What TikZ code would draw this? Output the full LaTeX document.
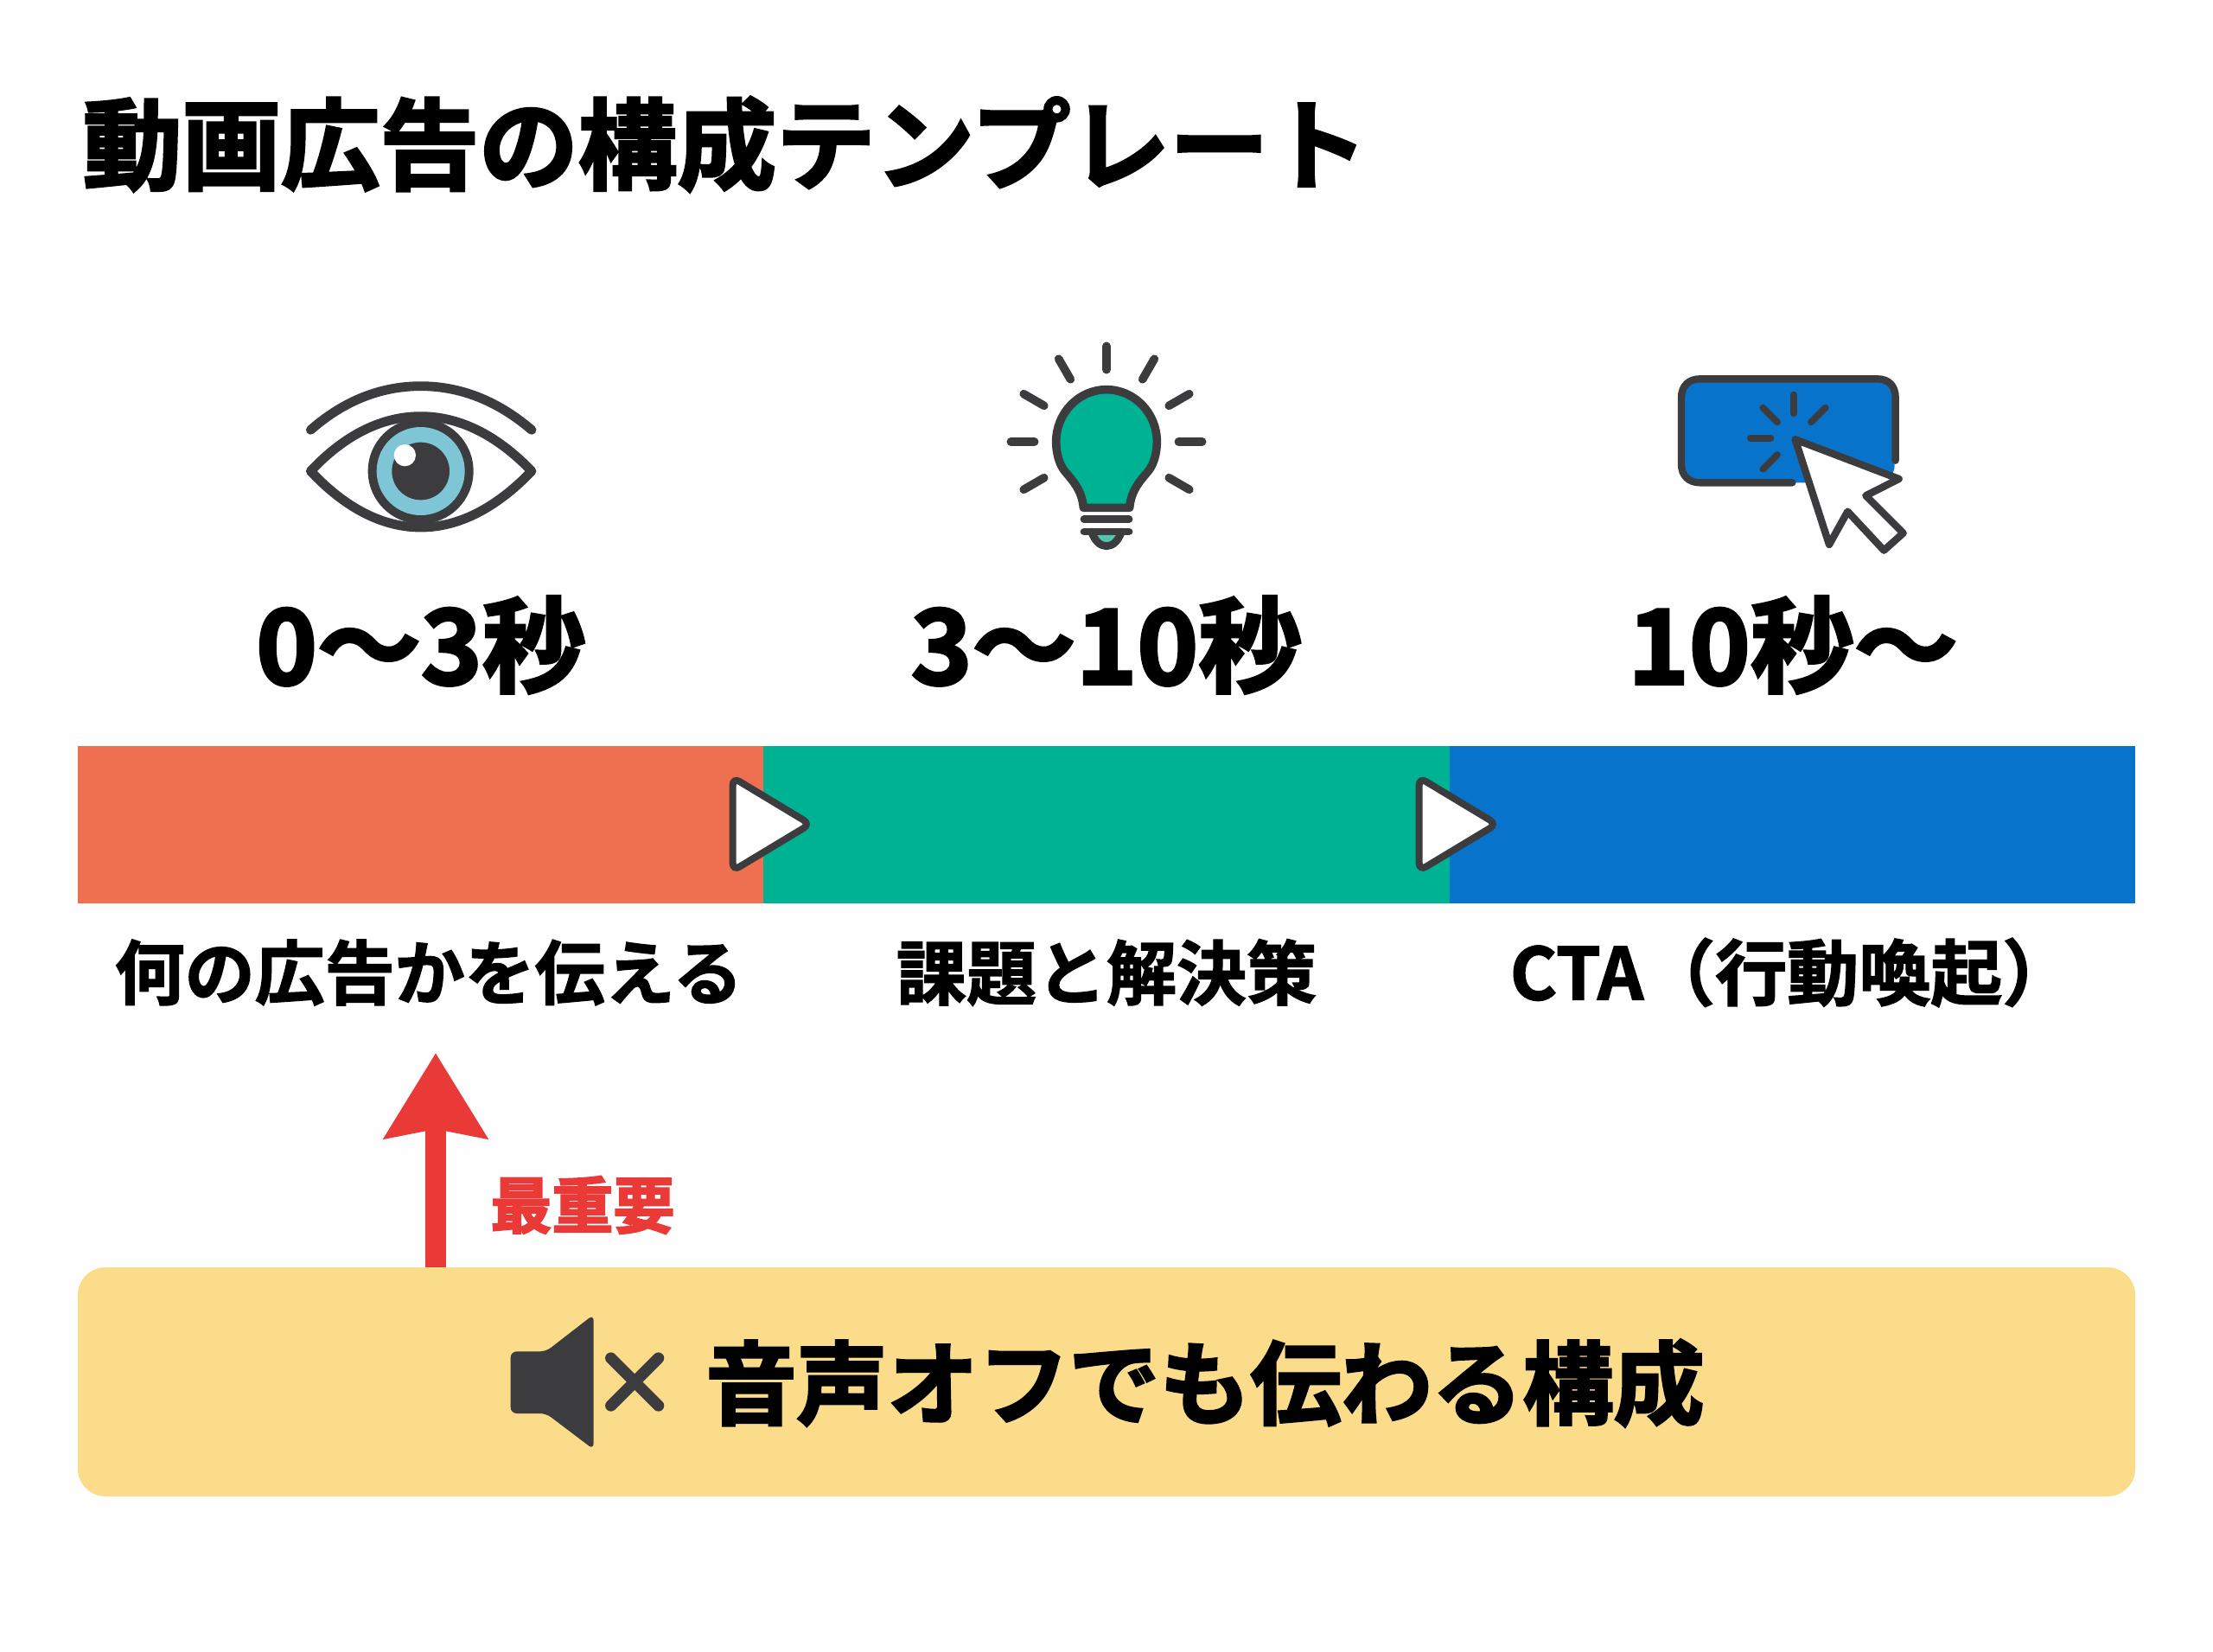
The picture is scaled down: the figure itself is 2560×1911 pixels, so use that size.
\documentclass[tikz,border=0pt]{standalone}
\usepackage{fontspec}
\usetikzlibrary{arrows.meta,calc}
\setmainfont{Noto Sans CJK JP}[BoldFont={Noto Sans CJK JP Bold},BoldFeatures={FakeBold=1.6}]
\newfontfamily\cjkheavy{Noto Sans CJK JP Bold}[FakeBold=2.8]
\newfontfamily\cjkmid{Noto Sans CJK JP Bold}[FakeBold=1.8]
\definecolor{cOrange}{HTML}{EE7050}
\definecolor{cTeal}{HTML}{00B294}
\definecolor{cBlue}{HTML}{0873CA}
\definecolor{cDark}{HTML}{3C3C3E}
\definecolor{cIris}{HTML}{7EC5D6}
\definecolor{cYellow}{HTML}{FADC8A}
\definecolor{cRed}{HTML}{E93A38}
\definecolor{cPaper}{HTML}{FEFEFE}
\definecolor{cLight}{HTML}{55C4AE}
\tikzset{
  titletext/.style={inner sep=0pt,anchor=center,font=\cjkheavy\fontsize{57.3}{57.3}\selectfont,text=black},
  timetext/.style={inner sep=0pt,anchor=center,font=\cjkheavy\fontsize{60}{60}\selectfont,text=black},
  subtext/.style={inner sep=0pt,anchor=center,font=\cjkmid\fontsize{40.5}{40.5}\selectfont,text=black},
  bartext/.style={inner sep=0pt,anchor=center,font=\cjkheavy\fontsize{52.5}{52.5}\selectfont,text=black},
  redtext/.style={inner sep=0pt,anchor=center,font=\cjkheavy\fontsize{35.5}{35.5}\selectfont,text=cRed},
  icon/.style={x=0.16667pt,y=-0.16667pt},
  ink/.style={draw=cDark,line width=#1,line cap=round,line join=round},
  playmark/.style={draw=cDark,fill=white,line width=4pt,rounded corners=4.5pt}
}
\begin{document}
\begin{tikzpicture}[x=0.5pt,y=-0.5pt]
\useasboundingbox (0,0) rectangle (2560,1911);
\fill[cPaper] (0,0) rectangle (2560,1911);

\node[titletext] (title) at (839,167) {動画広告の構成テンプレート};

% eye
\begin{scope}[shift={(320,380)},icon]
  \draw[ink=5.4pt] (118,352) .. controls (240,245) and (370,200) .. (500,200) .. controls (630,200) and (760,245) .. (885,352);
  \draw[ink=5.4pt] (118,495) .. controls (240,365) and (370,305) .. (500,305) .. controls (630,305) and (760,365) .. (885,495) .. controls (760,625) and (630,690) .. (500,690) .. controls (370,690) and (240,625) .. cycle;
  \fill[cDark] (500,495) circle[radius=183];
  \fill[cIris] (500,495) circle[radius=153];
  \fill[cDark] (500,495) circle[radius=100];
  \fill[white] (445,440) circle[radius=38];
\end{scope}

% bulb
\begin{scope}[shift={(1140,380)},icon]
  \foreach \a in {0,-30,-60,-90,-120,-150,180,150,30}
    \draw[ink=4.8pt] ($(420,393)+(\a:250)$) -- ($(420,393)+(\a:332)$);
  \draw[ink=4.8pt,fill=cTeal] (340,622) .. controls (335,560) and (300,525) .. (275,495) .. controls (255,470) and (245,430) .. (245,393) .. controls (245,295) and (322,212) .. (420,212) .. controls (518,212) and (595,295) .. (595,393) .. controls (595,430) and (585,470) .. (565,495) .. controls (540,525) and (505,560) .. (500,622) -- cycle;
  \draw[ink=4.4pt] (342,662) -- (498,662);
  \draw[ink=4.4pt,fill=cLight] (368,705) .. controls (380,740) and (400,755) .. (420,755) .. controls (440,755) and (460,740) .. (472,705);
  \draw[ink=4.4pt] (342,705) -- (498,705);
\end{scope}

% click button
\begin{scope}[shift={(1920,410)},icon]
  \fill[cBlue,rounded corners=10pt] (75,85) rectangle (815,445);
  \draw[ink=4.2pt] (818,368) -- (818,150) .. controls (818,110) and (795,85) .. (755,85) -- (140,85) .. controls (100,85) and (75,110) .. (75,150) -- (75,380) .. controls (75,420) and (100,445) .. (140,445) -- (460,445);
  \draw[ink=3.9pt] (465,140) -- (465,205);
  \draw[ink=3.9pt] (358,185) -- (408,235);
  \draw[ink=3.9pt] (575,185) -- (525,235);
  \draw[ink=3.9pt] (315,290) -- (385,290);
  \draw[ink=3.9pt] (358,398) -- (408,348);
  \draw[ink=4.2pt,fill=white] (470,295) -- (830,432) -- (715,490) -- (845,620) -- (778,680) -- (652,545) -- (588,660) -- cycle;
\end{scope}

\node[timetext] (t1) at (487,746) {0〜3秒};
\node[timetext] (t2) at (1280,746) {3〜10秒};
\node[timetext] (t3) at (2074,746) {10秒〜};

% bar
\fill[cOrange] (90,863) rectangle (883,1045);
\fill[cTeal] (883,863) rectangle (1677,1045);
\fill[cBlue] (1677,863) rectangle (2470,1045);

\begin{scope}[shift={(800,860)},icon]
  \draw[playmark] (143,118) -- (412,280) -- (143,442) -- cycle;
\end{scope}
\begin{scope}[shift={(1594,860)},icon]
  \draw[playmark] (143,118) -- (412,280) -- (143,442) -- cycle;
\end{scope}

\node[subtext] (s1) at (496,1125) {何の広告かを伝える};
\node[subtext] (s2) at (1280,1125) {課題と解決策};
\node[subtext,font=\cjkmid\fontsize{41.5}{41.5}\selectfont] (s3) at (2073,1125) {CTA（行動喚起）};

% banner
\node[inner sep=0pt,minimum width=1190pt,minimum height=132.5pt,rounded corners=16pt,fill=cYellow] (banner) at (1280,1598.5) {};
\node[bartext] (bannertext) at (1394,1600) {音声オフでも伝わる構成};

% speaker
\begin{scope}[shift={(560,1500)},icon]
  \fill[cDark,rounded corners=3.5pt] (92,190) -- (215,190) -- (380,62) -- (380,530) -- (215,405) -- (92,405) -- cycle;
  \draw[ink=6.6pt] (440,213) -- (605,378);
  \draw[ink=6.6pt] (605,213) -- (440,378);
\end{scope}

% arrow
\coordinate (arrowtip) at (504,1218);
\draw[cRed,line width=12.4pt,-{Stealth[length=49pt,width=58.5pt,inset=5pt]}] (arrowtip |- banner.north) -- (arrowtip);
\node[redtext] (label) at (674,1394) {最重要};
\end{tikzpicture}
\end{document}
